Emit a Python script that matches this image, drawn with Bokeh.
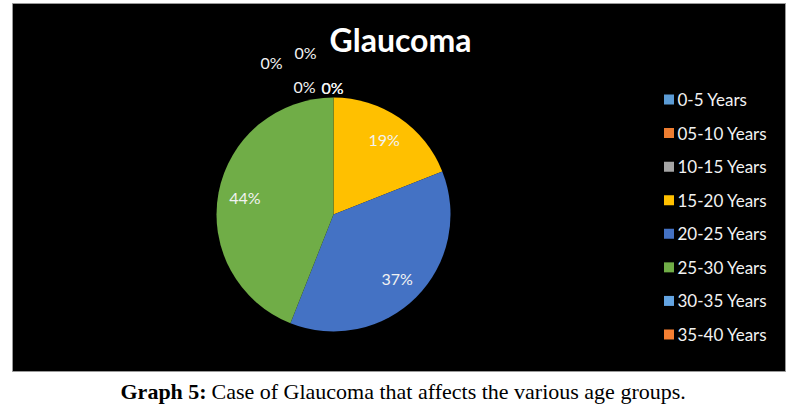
import math
from bokeh.plotting import figure
from bokeh.models import Range1d
from bokeh.core.properties import value
from bokeh.embed import file_html
from bokeh.resources import INLINE

# ---- data ----
categories = ["0-5 Years", "05-10 Years", "10-15 Years", "15-20 Years",
              "20-25 Years", "25-30 Years", "30-35 Years", "35-40 Years"]
percent = [0, 0, 0, 19, 37, 44, 0, 0]
colors = ["#5B9BD5", "#ED7D31", "#A5A5A5", "#FFC000",
          "#4472C4", "#70AD47", "#63A4E2", "#F47F32"]
title_text = "Glaucoma"
caption_bold = "Graph 5:"
caption_rest = "Case of Glaucoma that affects the various age groups."

# label pixel offsets for the zero-size slices (Excel's overlap avoidance)
zero_dx = [-1, -29, -62, -28, -1]
zero_dy = [-37, -38, -62, -72, -37]

# ---- layout (pixel-matched data space) ----
W, H = 796, 412
p = figure(width=W, height=H, output_backend="svg", toolbar_location=None,
           x_range=Range1d(0, W), y_range=Range1d(0, H),
           min_border=0, min_border_left=0, min_border_right=0,
           min_border_top=0, min_border_bottom=0)
p.axis.visible = False
p.grid.visible = False
p.outline_line_color = None
p.background_fill_color = "white"
p.border_fill_color = "white"

# black chart area
p.quad(left=[12], right=[785], bottom=[41], top=[409], fill_color="black",
       line_color="#999999", line_width=1)

cx, cy, r = 333, 198, 117
total = sum(percent)
starts, ends, mids = [], [], []
acc = 0.0
for v in percent:
    a0 = acc / total * 2 * math.pi
    acc += v
    a1 = acc / total * 2 * math.pi
    starts.append(math.pi / 2 - a0)
    ends.append(math.pi / 2 - a1)
    mids.append((a0 + a1) / 2)

nz = [i for i, v in enumerate(percent) if v > 0]
p.wedge(x=cx, y=cy, radius=r,
        start_angle=[starts[i] for i in nz], end_angle=[ends[i] for i in nz],
        direction="clock", fill_color=[colors[i] for i in nz], line_color=None)

# labels
lr = 0.77 * r
lx, ly, lt, ox, oy = [], [], [], [], []
zi = 0
for i, v in enumerate(percent):
    a = mids[i]
    lx.append(cx + lr * math.sin(a))
    ly.append(cy + lr * math.cos(a))
    lt.append(f"{v}%")
    if v == 0:
        ox.append(zero_dx[zi]); oy.append(zero_dy[zi]); zi += 1
    else:
        ox.append(0); oy.append(0)
p.text(x=lx, y=ly, text=lt, x_offset=ox, y_offset=oy,
       text_align="center", text_baseline="middle",
       text_color="#F2F2F2", text_font=value("Lato"), text_font_size="16px")

# title
p.text(x=[400], y=[373], text=[title_text], text_align="center", text_baseline="middle",
       text_color="white", text_font=value("Lato"), text_font_size="32px",
       text_font_style="bold")

# legend (manual)
ly0, pitch = 313, 33.57
leg_y = [ly0 - i * pitch for i in range(len(categories))]
p.scatter(x=[668.5] * len(categories), y=leg_y, marker="square", size=10,
          fill_color=colors, line_color=None)
p.text(x=[677] * len(categories), y=leg_y, text=categories, text_align="left",
       text_baseline="middle", text_color="#F2F2F2", text_font=value("Lato"),
       text_font_size="17px")

# caption
p.text(x=[120], y=[21], text=[caption_bold], text_align="left", text_baseline="middle",
       text_color="black", text_font=value("Liberation Serif"), text_font_size="22px",
       text_font_style="bold")
p.text(x=[211], y=[21], text=[caption_rest], text_align="left", text_baseline="middle",
       text_color="black", text_font=value("Liberation Serif"), text_font_size="22px")

open("out.html", "w").write(file_html(p, INLINE))
